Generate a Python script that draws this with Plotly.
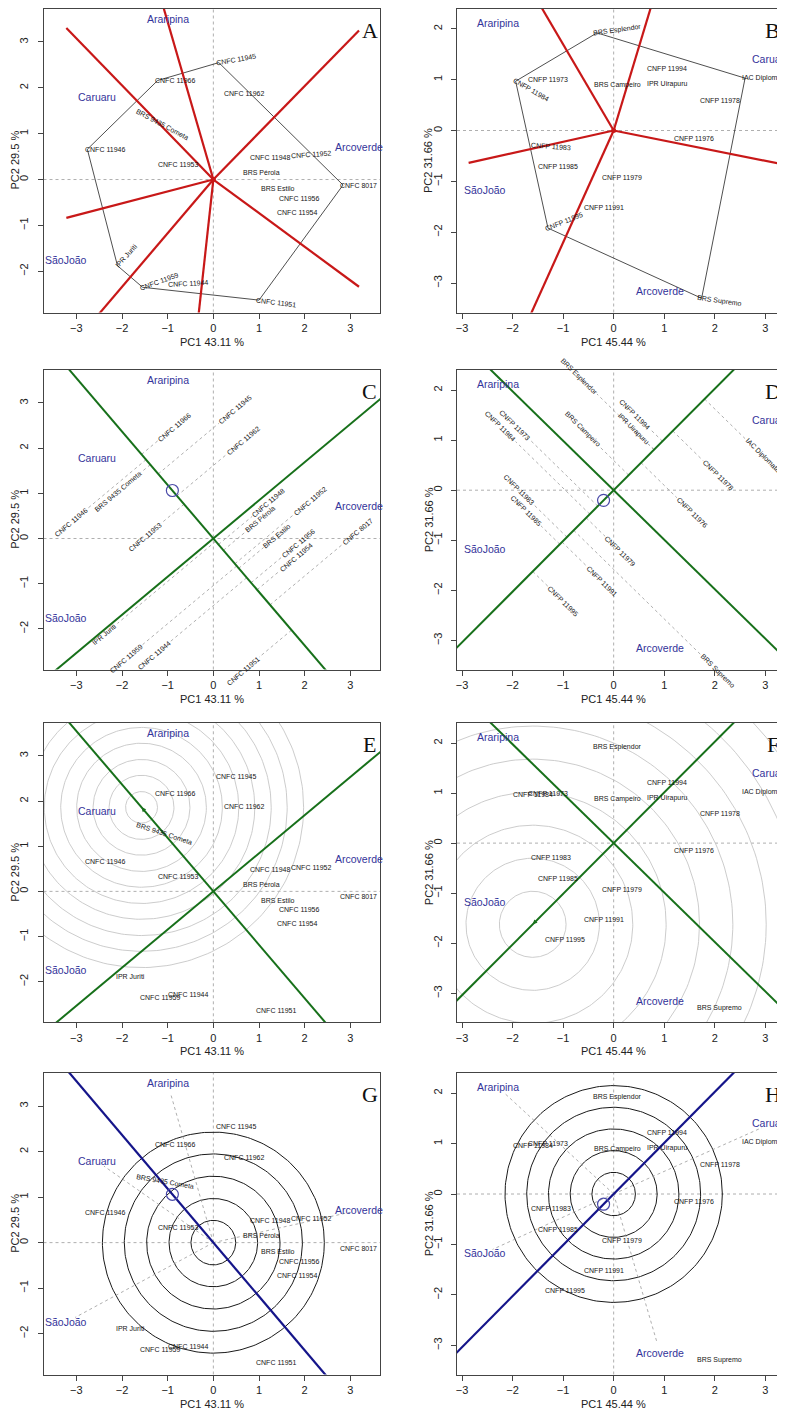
import numpy as np
import plotly.graph_objects as go

# ---------------- data : trial 1 (CNFC lines) ----------------
gen1_names = ["CNFC 11945", "CNFC 11966", "CNFC 11962", "BRS 9435 Cometa", "CNFC 11946",
              "CNFC 11953", "CNFC 11948", "CNFC 11952", "BRS Pérola", "BRS Estilo",
              "CNFC 8017", "CNFC 11956", "CNFC 11954", "IPR Juriti", "CNFC 11944",
              "CNFC 11959", "CNFC 11951"]
gen1_pc1 = [0.12, -1.22, 0.30, -1.60, -2.76, -1.15, 0.85, 1.75, 0.72, 1.10,
            2.84, 1.50, 1.45, -2.10, -0.94, -1.55, 1.00]
gen1_pc2 = [2.55, 2.16, 1.87, 1.45, 0.66, 0.33, 0.49, 0.52, 0.16, -0.20,
            -0.12, -0.41, -0.72, -1.88, -2.28, -2.35, -2.63]

env_names = ["Araripina", "Caruaru", "Arcoverde", "SãoJoão"]
env1_pc1 = [-1.00, -2.55, 3.18, -3.22]
env1_pc2 = [3.50, 1.79, 0.71, -1.75]

# ---------------- data : trial 2 (CNFP lines) ----------------
gen2_names = ["BRS Esplendor", "CNFP 11994", "IAC Diplomata", "CNFP 11973", "CNFP 11984",
              "BRS Campeiro", "IPR Uirapuru", "CNFP 11978", "CNFP 11976", "CNFP 11983",
              "CNFP 11985", "CNFP 11979", "CNFP 11991", "CNFP 11995", "BRS Supremo"]
gen2_pc1 = [-0.33, 0.72, 2.60, -1.65, -1.94, -0.30, 0.70, 1.77, 1.25, -1.58,
            -1.44, -0.17, -0.53, -1.30, 1.74]
gen2_pc2 = [1.92, 1.22, 1.03, 1.00, 0.97, 0.89, 0.91, 0.59, -0.15, -0.29,
            -0.71, -0.92, -1.52, -1.92, -3.30]

env2_pc1 = [-2.29, 3.12, 0.92, -2.55]
env2_pc2 = [2.12, 1.40, -3.16, -1.17]

# axis titles / ticks
pc_titles1 = ("PC1 43.11 %", "PC2 29.5 %")
pc_titles2 = ("PC1 45.44 %", "PC2 31.66 %")
xticks = [-3, -2, -1, 0, 1, 2, 3]
yticks1 = [-2, -1, 0, 1, 2, 3]
yticks2 = [-3, -2, -1, 0, 1, 2]

# which-won-where sector rays end at these PC1 limits
ray_xlim1 = (-3.22, 3.19)
ray_xlim2 = (-2.87, 3.36)
# concentric circle radii
disc_rings1 = [0.49, 0.97, 1.46, 1.95, 2.43]
disc_rings2 = [0.43, 0.86, 1.29, 1.72, 2.15]
ideal_rings1 = [0.35, 0.71, 1.06, 1.42, 1.77, 2.13, 2.48, 2.84, 3.19, 3.55]
ideal_rings2 = [0.66, 1.32, 1.98, 2.64, 3.30, 3.96, 4.62, 5.28, 5.94]

# ---------------- styles ----------------
OFF = 8                      # page body margin of the html page
SW, SH = 785, 1409           # screen size
W, H = SW - OFF, SH - OFF    # figure size
FONT = "Liberation Sans, Arial, sans-serif"
SERIF = "Liberation Serif, Times New Roman, serif"
GEN_COL = "#151515"
ENV_COL = "#33339a"
RED = "#c81818"
GREEN = "#17701a"
BLUE = "#15158a"
GREY = "#9a9a9a"
RING_GREY = "#c6c6c6"
GEN_SIZE = 7
ENV_SIZE = 10.5
AX_SIZE = 11

rot_A = {"CNFC 11945": -10, "BRS 9435 Cometa": 28, "IPR Juriti": -48, "CNFC 11959": -20,
         "CNFC 11951": 7, "CNFC 11952": -4, "CNFC 11944": -3}
rot_B = {"BRS Esplendor": -8, "CNFP 11984": 30, "CNFP 11995": -22, "BRS Supremo": 8,
         "CNFP 11983": 4}
rot_E = {"BRS 9435 Cometa": 18}
rot_G = {"BRS 9435 Cometa": 10}

datasets = {
    1: dict(names=gen1_names, gx=np.array(gen1_pc1), gy=np.array(gen1_pc2),
            ex=np.array(env1_pc1), ey=np.array(env1_pc2), titles=pc_titles1,
            xr=[-3.72, 3.65], yr=[-2.90, 3.73], yt=yticks1, xlim=ray_xlim1,
            disc=disc_rings1, ideal=ideal_rings1),
    2: dict(names=gen2_names, gx=np.array(gen2_pc1), gy=np.array(gen2_pc2),
            ex=np.array(env2_pc1), ey=np.array(env2_pc2), titles=pc_titles2,
            xr=[-3.10, 3.39], yr=[-3.58, 2.40], yt=yticks2, xlim=ray_xlim2,
            disc=disc_rings2, ideal=ideal_rings2),
}

panels = [
    dict(letter="A", ds=1, kind="www", col=0, row=0, rot=rot_A),
    dict(letter="B", ds=2, kind="www", col=1, row=0, rot=rot_B),
    dict(letter="C", ds=1, kind="ms", col=0, row=1, rot={}),
    dict(letter="D", ds=2, kind="ms", col=1, row=1, rot={}),
    dict(letter="E", ds=1, kind="ideal", col=0, row=2, rot=rot_E),
    dict(letter="F", ds=2, kind="ideal", col=1, row=2, rot={}),
    dict(letter="G", ds=1, kind="disc", col=0, row=3, rot=rot_G),
    dict(letter="H", ds=2, kind="disc", col=1, row=3, rot={}),
]

# screen pixel positions of the plot boxes
col_px = [(43.5, 380.0), (457.0, 785.0)]
row_px = [(8.5, 312.5), (370.0, 669.5), (723.0, 1022.3), (1073.0, 1374.5)]


def fx(px):
    return (px - OFF) / W


def fy(py):
    return 1 - (py - OFF) / H


def text_w(s, size):
    w = 0.0
    for ch in s:
        if ch.isdigit():
            w += 0.556
        elif ch == " ":
            w += 0.278
        elif ch.isupper():
            w += 0.69
        elif ch in "ilj":
            w += 0.222
        elif ch in "rtf":
            w += 0.333
        else:
            w += 0.54
    return w * size


fig = go.Figure()
annotations = []
shapes = []
layout_axes = {}

theta = np.linspace(0, 2 * np.pi, 241)


def ann(**kw):
    kw.setdefault("xanchor", "center")
    kw.setdefault("yanchor", "middle")
    kw.setdefault("showarrow", False)
    annotations.append(kw)


def line_trace(xs, ys, xa, ya, color, width, dash="solid"):
    fig.add_trace(go.Scatter(x=xs, y=ys, mode="lines", xaxis=xa, yaxis=ya,
                             line=dict(color=color, width=width, dash=dash),
                             hoverinfo="skip", showlegend=False))


def gen_label(x, y, text, xa, ya, angle=0.0):
    L = text_w(text, GEN_SIZE)
    d = L / 2 - 3
    rad = np.deg2rad(angle)
    ann(x=x, y=y, xref=xa, yref=ya, text=text, textangle=angle,
        xshift=d * np.cos(rad), yshift=-d * np.sin(rad),
        font=dict(family=FONT, size=GEN_SIZE, color=GEN_COL))


def env_labels(d, xa, ya):
    for n, x, y in zip(env_names, d["ex"], d["ey"]):
        ann(x=x, y=y, xref=xa, yref=ya, text=n,
            font=dict(family=FONT, size=ENV_SIZE, color=ENV_COL))


def convex_hull(px, py):
    pts = sorted(range(len(px)), key=lambda i: (px[i], py[i]))

    def cross(o, a, b):
        return (px[a] - px[o]) * (py[b] - py[o]) - (py[a] - py[o]) * (px[b] - px[o])
    lower, upper = [], []
    for i in pts:
        while len(lower) >= 2 and cross(lower[-2], lower[-1], i) <= 0:
            lower.pop()
        lower.append(i)
    for i in reversed(pts):
        while len(upper) >= 2 and cross(upper[-2], upper[-1], i) <= 0:
            upper.pop()
        upper.append(i)
    return lower[:-1] + upper[:-1]


for k, p in enumerate(panels, start=1):
    d = datasets[p["ds"]]
    xa = "x" if k == 1 else f"x{k}"
    ya = "y" if k == 1 else f"y{k}"
    x0p, x1p = col_px[p["col"]]
    y0p, y1p = row_px[p["row"]]
    right = p["col"] == 1
    tick_font = dict(family=FONT, size=AX_SIZE, color="#222")
    layout_axes["xaxis" if k == 1 else f"xaxis{k}"] = dict(
        domain=[fx(x0p), min(1.0, fx(x1p))], range=d["xr"], anchor=ya, tickvals=xticks,
        ticks="outside", ticklen=5, tickcolor="#444", tickfont=tick_font,
        showline=True, linecolor="#444", linewidth=1, mirror=True,
        showgrid=False, zeroline=False, fixedrange=True)
    layout_axes["yaxis" if k == 1 else f"yaxis{k}"] = dict(
        domain=[fy(y1p), min(1.0, fy(y0p))], range=d["yr"], anchor=xa, tickvals=d["yt"],
        ticks="outside", ticklen=5, tickcolor="#444", tickfont=tick_font, tickangle=-90,
        ticklabelstandoff=5,
        showline=True, linecolor="#444", linewidth=1, mirror=(not right),
        showgrid=False, zeroline=False, fixedrange=True)

    # dotted reference lines through the origin
    shapes.append(dict(type="line", xref=xa, yref=f"{ya} domain", x0=0, x1=0, y0=0, y1=1,
                       line=dict(color=GREY, width=0.8, dash="dot"), layer="below"))
    shapes.append(dict(type="line", xref=f"{xa} domain", yref=ya, x0=0, x1=1, y0=0, y1=0,
                       line=dict(color=GREY, width=0.8, dash="dot"), layer="below"))

    # axis titles
    xt_center = (x0p + x1p) / 2 if not right else 613.3
    ann(x=fx(xt_center), y=fy(y1p + 29), xref="paper", yref="paper",
        text=d["titles"][0], font=dict(family=FONT, size=AX_SIZE, color="#222"))
    ann(x=fx(x0p - 28.5), y=fy((y0p + y1p) / 2), xref="paper", yref="paper",
        text=d["titles"][1], textangle=-90,
        font=dict(family=FONT, size=AX_SIZE, color="#222"))
    # panel letter
    ann(x=0.962 if right else 0.97, y=0.929, xref=f"{xa} domain", yref=f"{ya} domain",
        text=p["letter"], font=dict(family=SERIF, size=22, color="#111"))

    gx, gy = d["gx"], d["gy"]
    mean_env = np.array([d["ex"].mean(), d["ey"].mean()])
    a = mean_env / np.linalg.norm(mean_env)
    o = np.array([a[1], -a[0]]) if a[1] > 0 else np.array([-a[1], a[0]])

    if p["kind"] == "www":
        hidx = convex_hull(list(gx), list(gy))
        poly = hidx + [hidx[0]]
        line_trace(gx[poly], gy[poly], xa, ya, "#222", 0.8)
        for i in range(len(hidx)):
            A_ = np.array([gx[hidx[i]], gy[hidx[i]]])
            B_ = np.array([gx[hidx[(i + 1) % len(hidx)]], gy[hidx[(i + 1) % len(hidx)]]])
            e = B_ - A_
            t = -(A_ @ e) / (e @ e)
            f = A_ + t * e
            u = f / np.linalg.norm(f)
            lim = d["xlim"][1] if u[0] > 0 else d["xlim"][0]
            s = lim / u[0] if abs(u[0]) > 1e-6 else 20
            s = min(s, 20)
            line_trace([0, u[0] * s], [0, u[1] * s], xa, ya, RED, 2.2)
        fig.add_trace(go.Scatter(x=[0], y=[0], mode="markers", xaxis=xa, yaxis=ya,
                                 marker=dict(color=RED, size=5), hoverinfo="skip",
                                 showlegend=False))
        for n, x, y in zip(d["names"], gx, gy):
            gen_label(x, y, n, xa, ya, p["rot"].get(n, 0))
        env_labels(d, xa, ya)

    elif p["kind"] == "ms":
        xs, ys = [], []
        ang = -np.degrees(np.arctan2(o[1], o[0]))
        for n, x, y in zip(d["names"], gx, gy):
            pt = np.array([x, y])
            foot = (pt @ a) * a
            xs += [foot[0], x, None]
            ys += [foot[1], y, None]
        line_trace(xs, ys, xa, ya, GREY, 0.8, "dot")
        line_trace([-10 * a[0], 10 * a[0]], [-10 * a[1], 10 * a[1]], xa, ya, GREEN, 2.0)
        line_trace([-10 * o[0], 10 * o[0]], [-10 * o[1], 10 * o[1]], xa, ya, GREEN, 2.0)
        fig.add_trace(go.Scatter(x=[mean_env[0]], y=[mean_env[1]], mode="markers",
                                 xaxis=xa, yaxis=ya,
                                 marker=dict(symbol="circle-open", size=12, color="#4a4aa8",
                                             line=dict(width=1.2)),
                                 hoverinfo="skip", showlegend=False))
        for n, x, y in zip(d["names"], gx, gy):
            pt = np.array([x, y])
            sgn = 1.0 if (pt @ o) >= 0 else -1.0
            L = text_w(n, GEN_SIZE)
            dd = L / 2 + 1
            ann(x=x, y=y, xref=xa, yref=ya, text=n, textangle=ang,
                xshift=sgn * o[0] * dd, yshift=sgn * o[1] * dd,
                font=dict(family=FONT, size=GEN_SIZE, color=GEN_COL))
        env_labels(d, xa, ya)

    elif p["kind"] == "ideal":
        proj = gx * a[0] + gy * a[1]
        c = a * proj.max()
        for r in d["ideal"]:
            line_trace(c[0] + r * np.cos(theta), c[1] + r * np.sin(theta), xa, ya,
                       RING_GREY, 0.9)
        line_trace([-10 * a[0], 10 * a[0]], [-10 * a[1], 10 * a[1]], xa, ya, GREEN, 2.0)
        line_trace([-10 * o[0], 10 * o[0]], [-10 * o[1], 10 * o[1]], xa, ya, GREEN, 2.0)
        annotations.append(dict(x=c[0], y=c[1], ax=c[0] * 0.9, ay=c[1] * 0.9,
                                xref=xa, yref=ya, axref=xa, ayref=ya, text="",
                                showarrow=True, arrowhead=2, arrowsize=0.9, arrowwidth=1,
                                arrowcolor=GREEN))
        for n, x, y in zip(d["names"], gx, gy):
            gen_label(x, y, n, xa, ya, p["rot"].get(n, 0))
        env_labels(d, xa, ya)

    else:  # discrimination / ranking circles
        for r in d["disc"]:
            line_trace(r * np.cos(theta), r * np.sin(theta), xa, ya, "#1a1a1a", 1.0)
        xs, ys = [], []
        for x, y in zip(d["ex"], d["ey"]):
            xs += [0, x * 0.94, None]
            ys += [0, y * 0.94, None]
        line_trace(xs, ys, xa, ya, GREY, 0.8, "dot")
        line_trace([-10 * a[0], 10 * a[0]], [-10 * a[1], 10 * a[1]], xa, ya, BLUE, 2.2)
        fig.add_trace(go.Scatter(x=[mean_env[0]], y=[mean_env[1]], mode="markers",
                                 xaxis=xa, yaxis=ya,
                                 marker=dict(symbol="circle-open", size=12, color="#4a4aa8",
                                             line=dict(width=1.2)),
                                 hoverinfo="skip", showlegend=False))
        for n, x, y in zip(d["names"], gx, gy):
            gen_label(x, y, n, xa, ya, p["rot"].get(n, 0))
        env_labels(d, xa, ya)

fig.update_layout(
    width=W, height=H, margin=dict(l=0, r=0, t=0, b=0),
    paper_bgcolor="white", plot_bgcolor="white", showlegend=False,
    annotations=annotations, shapes=shapes, **layout_axes)

fig.write_html("out.html")
